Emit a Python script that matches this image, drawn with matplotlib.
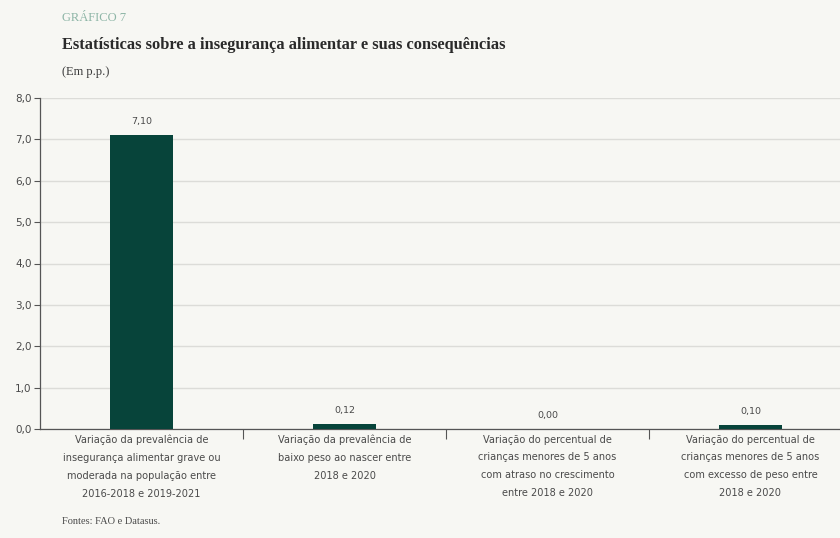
import matplotlib
matplotlib.use("Agg")
import matplotlib.pyplot as plt
from matplotlib.ticker import FixedLocator

categories = [
    "Variação da prevalência de\ninsegurança alimentar grave ou\nmoderada na população entre\n2016-2018 e 2019-2021",
    "Variação da prevalência de\nbaixo peso ao nascer entre\n2018 e 2020",
    "Variação do percentual de\ncrianças menores de 5 anos\ncom atraso no crescimento\nentre 2018 e 2020",
    "Variação do percentual de\ncrianças menores de 5 anos\ncom excesso de peso entre\n2018 e 2020",
]
values = [7.10, 0.12, 0.00, 0.10]
yticks = [0, 1, 2, 3, 4, 5, 6, 7, 8]

bg = "#f7f7f3"
bar_color = "#07443a"
text_gray = "#4a4a4a"
sans = ["DejaVu Sans"]
serif = ["Liberation Serif", "DejaVu Serif"]

fig = plt.figure(figsize=(8.4, 5.38), dpi=100, facecolor=bg)
ax = fig.add_axes([40 / 840, 1 - 429 / 538, 1 - 40 / 840, (429 - 98) / 538])
ax.set_facecolor(bg)

x = list(range(len(values)))
ax.bar(x, values, width=0.31, color=bar_color, zorder=3)
for xi, v in zip(x, values):
    ax.text(xi, v + 0.22, f"{v:.2f}".replace(".", ","), ha="center", va="bottom",
            fontsize=6.8, color=text_gray, family=sans)

ax.set_xlim(-0.5, -0.5 + 800 / 203)
ax.set_ylim(0, 8)
ax.set_yticks(yticks)
ax.set_yticklabels([f"{t:.1f}".replace(".", ",") for t in yticks],
                   fontsize=7.5, color=text_gray, family=sans)
ax.yaxis.grid(True, color="#dcdcd8", linewidth=1, zorder=0)
ax.tick_params(axis="y", length=4, width=0.8, color="#555555", pad=2)

ax.set_xticks(x)
ax.set_xticklabels(categories, fontsize=7.8, color=text_gray, family=sans,
                   linespacing=1.98, fontstretch="condensed")
ax.tick_params(axis="x", which="major", length=0, pad=4)
ax.xaxis.set_minor_locator(FixedLocator([0.5, 1.5, 2.5]))
ax.tick_params(axis="x", which="minor", length=7, width=0.8, color="#555555")

for side in ["top", "right"]:
    ax.spines[side].set_visible(False)
for side in ["left", "bottom"]:
    ax.spines[side].set_color("#555555")
    ax.spines[side].set_linewidth(0.9)

fig.text(62 / 840, 1 - 18 / 538, "GRÁFICO 7", fontsize=9, color="#8db5a6",
         family=serif, va="center")
fig.text(62 / 840, 1 - 45 / 538, "Estatísticas sobre a insegurança alimentar e suas consequências",
         fontsize=11.8, color="#2a2a2a", family=serif, weight="bold", va="center")
fig.text(62 / 840, 1 - 72 / 538, "(Em p.p.)", fontsize=9, color="#3a3a3a",
         family=serif, va="center")
fig.text(62 / 840, 1 - 522 / 538, "Fontes: FAO e Datasus.", fontsize=7.5, color="#4a4a4a",
         family=serif, va="center")

fig.savefig("out.png", dpi=100, facecolor=bg)
